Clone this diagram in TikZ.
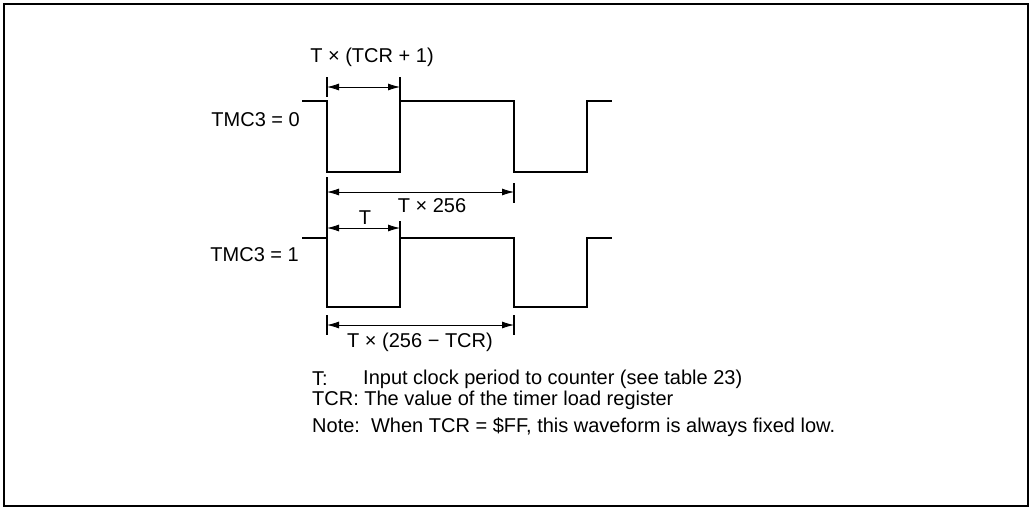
\documentclass[tikz,border=0pt]{standalone}
\usepackage{fontspec}
\setmainfont{Liberation Sans}
\usetikzlibrary{arrows.meta}
\begin{document}
\begin{tikzpicture}[x=1pt,y=-1pt,
  wave/.style={line width=1.6pt},
  tick/.style={line width=1.2pt},
  dim/.style={line width=0.8pt,{Latex[length=12pt,width=7pt]}-{Latex[length=12pt,width=7pt]}},
  lbl/.style={font=\fontsize{20}{24}\selectfont,inner sep=0pt}]
\useasboundingbox (0,0) rectangle (1031,509);
\draw[line width=2pt] (4,4) rectangle (1028,506);
\draw[wave] (302,101) -- (327,101) -- (327,172) -- (400,172) -- (400,101) -- (514,101) -- (514,172) -- (587,172) -- (587,101) -- (612,101);
\draw[wave] (302,238) -- (327,238) -- (327,307) -- (400,307) -- (400,238) -- (514,238) -- (514,307) -- (587,307) -- (587,238) -- (612,238);
\coordinate (c0) at (327,87);
\coordinate (c1) at (400,87);
\coordinate (d0) at (327,192);
\coordinate (d1) at (514,192);
\coordinate (e0) at (327,228);
\coordinate (e1) at (400,228);
\coordinate (f0) at (327,325);
\coordinate (f1) at (514,325);
\draw[tick] (327,77) -- (327,97);
\draw[tick] (400,77) -- (400,101);
\draw[tick] (327,177) -- (327,238);
\draw[tick] (514,183) -- (514,203);
\draw[tick] (400,221) -- (400,238);
\draw[tick] (327,315) -- (327,335);
\draw[tick] (514,315) -- (514,335);
\draw[dim] (c0) -- (c1);
\draw[dim] (d0) -- (d1);
\draw[dim] (e0) -- (e1);
\draw[dim] (f0) -- (f1);
\node[lbl] (tcrone) at (372,57) {T × (TCR + 1)};
\node[lbl,anchor=east] (tmczero) at (300,120) {TMC3 = 0};
\node[lbl] (tfull) at (432,206) {T × 256};
\node[lbl] (tone) at (365,218) {T};
\node[lbl,anchor=east] (tmcone) at (299,255) {TMC3 = 1};
\node[lbl] (tdiff) at (420,342) {T × (256 − TCR)};
\node[lbl,anchor=west] (keyt) at (312,379) {T:};
\node[lbl,anchor=west] (keytext) at (363,379) {Input clock period to counter (see table 23)};
\node[lbl,anchor=west] (keytcr) at (312,400) {TCR: The value of the timer load register};
\node[lbl,anchor=west] (note) at (312,427) {Note:\ \ When TCR = \$FF, this waveform is always fixed low.};
\end{tikzpicture}
\end{document}
